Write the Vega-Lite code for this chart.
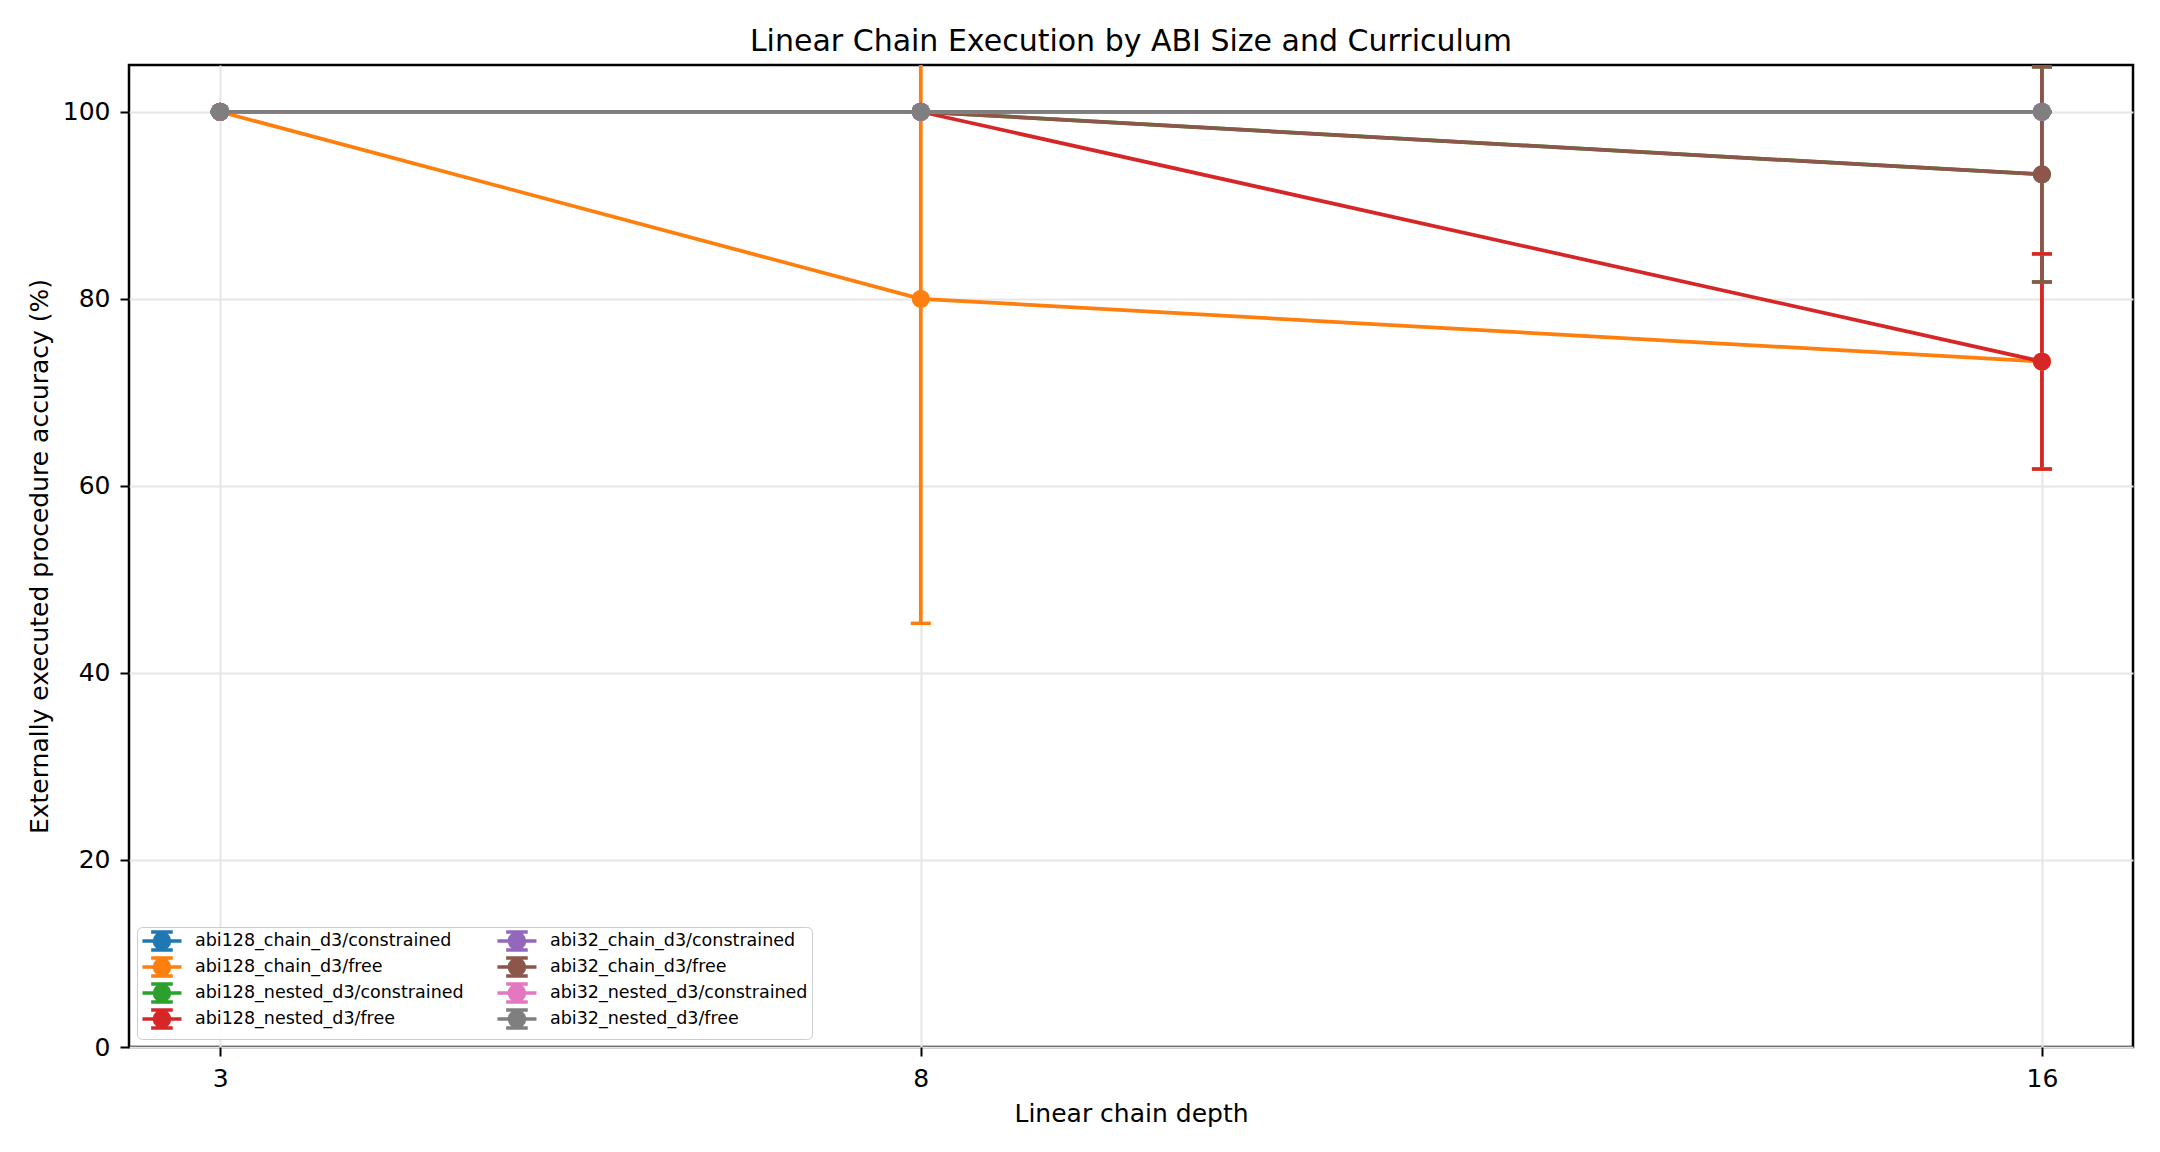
{
  "$schema": "https://vega.github.io/schema/vega-lite/v6.json",
  "description": "Linear chain execution accuracy by ABI size and curriculum, with error bars.",
  "width": 2004,
  "height": 982,
  "autosize": {"type": "none"},
  "padding": {"left": 129, "top": 65, "right": 27, "bottom": 105},
  "background": "white",

  "title": {
    "text": "Linear Chain Execution by ABI Size and Curriculum",
    "fontSize": 30,
    "fontWeight": "normal",
    "anchor": "middle",
    "frame": "group",
    "baseline": "alphabetic",
    "offset": -16,
    "color": "black"
  },

  "config": {
    "font": "DejaVu Sans",
    "view": {"stroke": "black", "strokeWidth": 2.5},
    "axis": {
      "domain": false,
      "grid": true,
      "gridColor": "#e6e6e6",
      "gridWidth": 2,
      "tickColor": "black",
      "tickWidth": 2,
      "tickSize": 9,
      "labelFontSize": 25,
      "labelColor": "black",
      "labelPadding": 10,
      "titleFontSize": 25,
      "titleFontWeight": "normal",
      "titleColor": "black"
    }
  },

  "data": {
    "values": [
      {"series": "abi128_chain_d3/constrained", "depth": 3, "acc": 100, "lo": 100, "hi": 100},
      {"series": "abi128_chain_d3/constrained", "depth": 8, "acc": 100, "lo": 100, "hi": 100},
      {"series": "abi128_chain_d3/constrained", "depth": 16, "acc": 100, "lo": 100, "hi": 100},
      {"series": "abi128_chain_d3/free", "depth": 3, "acc": 100, "lo": 100, "hi": 100},
      {"series": "abi128_chain_d3/free", "depth": 8, "acc": 80, "lo": 45.3, "hi": 114.7},
      {"series": "abi128_chain_d3/free", "depth": 16, "acc": 73.3, "lo": 61.8, "hi": 84.8},
      {"series": "abi128_nested_d3/constrained", "depth": 3, "acc": 100, "lo": 100, "hi": 100},
      {"series": "abi128_nested_d3/constrained", "depth": 8, "acc": 100, "lo": 100, "hi": 100},
      {"series": "abi128_nested_d3/constrained", "depth": 16, "acc": 93.3, "lo": 81.8, "hi": 104.8},
      {"series": "abi128_nested_d3/free", "depth": 3, "acc": 100, "lo": 100, "hi": 100},
      {"series": "abi128_nested_d3/free", "depth": 8, "acc": 100, "lo": 100, "hi": 100},
      {"series": "abi128_nested_d3/free", "depth": 16, "acc": 73.3, "lo": 61.8, "hi": 84.8},
      {"series": "abi32_chain_d3/constrained", "depth": 3, "acc": 100, "lo": 100, "hi": 100},
      {"series": "abi32_chain_d3/constrained", "depth": 8, "acc": 100, "lo": 100, "hi": 100},
      {"series": "abi32_chain_d3/constrained", "depth": 16, "acc": 100, "lo": 100, "hi": 100},
      {"series": "abi32_chain_d3/free", "depth": 3, "acc": 100, "lo": 100, "hi": 100},
      {"series": "abi32_chain_d3/free", "depth": 8, "acc": 100, "lo": 100, "hi": 100},
      {"series": "abi32_chain_d3/free", "depth": 16, "acc": 93.3, "lo": 81.8, "hi": 104.8},
      {"series": "abi32_nested_d3/constrained", "depth": 3, "acc": 100, "lo": 100, "hi": 100},
      {"series": "abi32_nested_d3/constrained", "depth": 8, "acc": 100, "lo": 100, "hi": 100},
      {"series": "abi32_nested_d3/constrained", "depth": 16, "acc": 100, "lo": 100, "hi": 100},
      {"series": "abi32_nested_d3/free", "depth": 3, "acc": 100, "lo": 100, "hi": 100},
      {"series": "abi32_nested_d3/free", "depth": 8, "acc": 100, "lo": 100, "hi": 100},
      {"series": "abi32_nested_d3/free", "depth": 16, "acc": 100, "lo": 100, "hi": 100}
    ]
  },

  "encoding": {
    "x": {
      "field": "depth",
      "type": "quantitative",
      "scale": {"domain": [2.35, 16.65], "nice": false, "zero": false},
      "axis": {"values": [3, 8, 16], "format": "d", "title": "Linear chain depth", "titlePadding": 10}
    },
    "y": {
      "field": "acc",
      "type": "quantitative",
      "scale": {"domain": [0, 105], "nice": false},
      "axis": {"values": [0, 20, 40, 60, 80, 100], "title": "Externally executed procedure accuracy (%)", "titlePadding": 10}
    },
    "color": {
      "field": "series",
      "type": "nominal",
      "scale": {
        "domain": [
          "abi128_chain_d3/constrained", "abi128_chain_d3/free",
          "abi128_nested_d3/constrained", "abi128_nested_d3/free",
          "abi32_chain_d3/constrained", "abi32_chain_d3/free",
          "abi32_nested_d3/constrained", "abi32_nested_d3/free"
        ],
        "range": ["#1f77b4", "#ff7f0e", "#2ca02c", "#d62728", "#9467bd", "#8c564b", "#e377c2", "#7f7f7f"]
      },
      "legend": {
        "title": null,
        "orient": "bottom-left",
        "offset": 8,
        "columns": 2,
        "symbolType": "M-1.07,0H3.81M1.37,-1.125V1.125M0.02,-1.125H2.72M0.02,1.125H2.72M2.31,0C2.31,0.519 1.889,0.94 1.37,0.94C0.851,0.94 0.43,0.519 0.43,0C0.43,-0.519 0.851,-0.94 1.37,-0.94C1.889,-0.94 2.31,-0.519 2.31,0Z",
        "symbolSize": 256,
        "symbolStrokeWidth": 3.5,
        "symbolOpacity": 1,
        "labelFontSize": 17.5,
        "labelColor": "black",
        "labelLimit": 400,
        "labelOffset": 34,
        "padding": 4,
        "rowPadding": -7,
        "columnPadding": 26,
        "strokeColor": "#cccccc",
        "fillColor": "rgba(255,255,255,0.8)",
        "cornerRadius": 5,
        "encode": {
          "symbols": {
            "update": {
              "fill": {"scale": "color", "field": "value"},
              "stroke": {"scale": "color", "field": "value"}
            }
          }
        }
      }
    }
  },

  "layer": [
    {
      "mark": {"type": "rule", "strokeWidth": 3.75, "clip": true},
      "encoding": {
        "y": {
          "field": "lo",
          "type": "quantitative",
          "scale": {"domain": [0, 105], "nice": false},
          "axis": {"values": [0, 20, 40, 60, 80, 100], "title": "Externally executed procedure accuracy (%)", "titlePadding": 10}
        },
        "y2": {"field": "hi"}
      }
    },
    {
      "mark": {"type": "point", "shape": "stroke", "size": 400, "strokeWidth": 3.5, "filled": false, "opacity": 1, "clip": true},
      "encoding": {
        "y": {
          "field": "lo",
          "type": "quantitative",
          "scale": {"domain": [0, 105], "nice": false},
          "axis": {"values": [0, 20, 40, 60, 80, 100], "title": "Externally executed procedure accuracy (%)", "titlePadding": 10}
        }
      }
    },
    {
      "mark": {"type": "point", "shape": "stroke", "size": 400, "strokeWidth": 3.5, "filled": false, "opacity": 1, "clip": true},
      "encoding": {
        "y": {
          "field": "hi",
          "type": "quantitative",
          "scale": {"domain": [0, 105], "nice": false},
          "axis": {"values": [0, 20, 40, 60, 80, 100], "title": "Externally executed procedure accuracy (%)", "titlePadding": 10}
        }
      }
    },
    {
      "mark": {"type": "line", "strokeWidth": 3.75}
    },
    {
      "mark": {"type": "point", "shape": "circle", "size": 330, "filled": true, "opacity": 1}
    }
  ]
}
